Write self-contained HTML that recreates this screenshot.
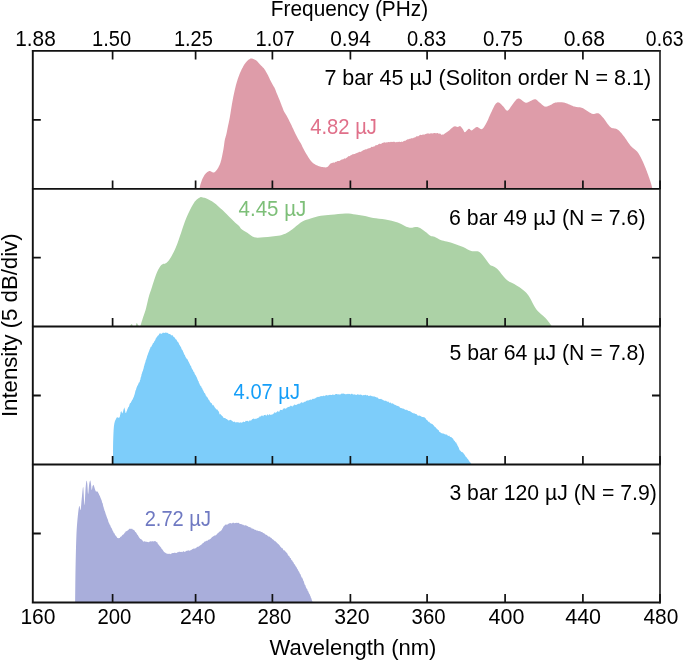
<!DOCTYPE html>
<html><head><meta charset="utf-8"><style>
html,body{margin:0;padding:0;background:#fff;width:685px;height:660px;overflow:hidden}
svg{display:block;font-family:"Liberation Sans",sans-serif;will-change:transform}
</style></head><body>
<svg width="685" height="660" viewBox="0 0 685 660">
<rect width="685" height="660" fill="#fff"/>
<path d="M199.50 188.90 L199.50 188.80 L199.61 188.28 L199.74 187.57 L199.91 186.73 L200.10 185.80 L200.33 184.84 L200.60 183.90 L200.83 183.19 L201.07 182.44 L201.34 181.67 L201.63 180.88 L201.93 180.10 L202.25 179.33 L202.57 178.59 L202.90 177.90 L203.35 177.02 L203.83 176.17 L204.33 175.36 L204.84 174.60 L205.37 173.91 L205.90 173.30 L206.57 172.66 L207.28 172.11 L208.00 171.66 L208.68 171.32 L209.30 171.10 L210.15 171.11 L210.87 171.45 L211.60 171.80 L212.36 172.17 L213.11 172.56 L213.90 172.60 L214.53 172.29 L215.18 171.78 L215.84 171.10 L216.50 170.30 L216.95 169.69 L217.42 168.99 L217.89 168.24 L218.36 167.44 L218.80 166.62 L219.20 165.80 L219.52 165.10 L219.81 164.39 L220.09 163.67 L220.36 162.93 L220.61 162.15 L220.86 161.35 L221.10 160.50 L221.31 159.71 L221.51 158.87 L221.71 157.99 L221.90 157.09 L222.08 156.19 L222.26 155.30 L222.43 154.43 L222.60 153.60 L222.78 152.71 L222.94 151.87 L223.10 151.05 L223.25 150.24 L223.40 149.40 L223.55 148.53 L223.70 147.60 L223.82 146.82 L223.93 145.99 L224.05 145.13 L224.16 144.24 L224.28 143.36 L224.40 142.47 L224.52 141.61 L224.66 140.78 L224.80 140.00 L225.00 139.07 L225.22 138.21 L225.46 137.40 L225.70 136.59 L225.94 135.78 L226.17 134.92 L226.40 134.00 L226.57 133.24 L226.73 132.46 L226.90 131.65 L227.06 130.83 L227.22 129.99 L227.38 129.14 L227.55 128.27 L227.72 127.39 L227.90 126.50 L228.07 125.71 L228.23 124.95 L228.40 124.19 L228.57 123.43 L228.74 122.64 L228.92 121.82 L229.11 120.96 L229.30 120.02 L229.49 119.01 L229.70 117.90 L229.82 117.23 L229.94 116.53 L230.07 115.78 L230.19 115.01 L230.32 114.21 L230.46 113.39 L230.59 112.54 L230.73 111.69 L230.86 110.82 L231.00 109.95 L231.14 109.07 L231.28 108.20 L231.42 107.34 L231.56 106.49 L231.69 105.66 L231.83 104.85 L231.97 104.06 L232.10 103.30 L232.26 102.42 L232.42 101.54 L232.58 100.68 L232.74 99.83 L232.90 98.99 L233.06 98.16 L233.21 97.35 L233.37 96.54 L233.53 95.75 L233.69 94.96 L233.85 94.19 L234.01 93.43 L234.17 92.67 L234.34 91.93 L234.50 91.20 L234.70 90.30 L234.91 89.43 L235.11 88.58 L235.31 87.74 L235.51 86.93 L235.71 86.12 L235.92 85.34 L236.13 84.56 L236.34 83.78 L236.55 83.02 L236.77 82.26 L237.00 81.50 L237.25 80.68 L237.51 79.86 L237.77 79.06 L238.03 78.27 L238.30 77.48 L238.57 76.71 L238.84 75.94 L239.13 75.19 L239.41 74.45 L239.70 73.72 L240.00 73.00 L240.34 72.21 L240.70 71.42 L241.07 70.63 L241.45 69.85 L241.83 69.09 L242.21 68.36 L242.58 67.65 L242.94 66.99 L243.28 66.37 L243.60 65.80 L244.16 64.84 L244.66 64.06 L245.12 63.41 L245.59 62.81 L246.10 62.20 L246.66 61.56 L247.26 60.93 L247.86 60.34 L248.45 59.83 L249.00 59.40 L249.79 58.90 L250.52 58.60 L251.30 58.50 L252.19 58.60 L253.14 58.90 L254.10 59.30 L254.83 59.66 L255.59 60.09 L256.32 60.58 L257.00 61.10 L257.58 61.66 L258.10 62.28 L258.62 62.92 L259.20 63.60 L259.75 64.18 L260.34 64.80 L260.96 65.43 L261.55 66.04 L262.10 66.60 L262.89 67.38 L263.61 68.08 L264.30 68.90 L264.82 69.68 L265.33 70.56 L265.83 71.45 L266.30 72.30 L266.73 73.04 L267.14 73.72 L267.55 74.44 L268.00 75.30 L268.33 75.98 L268.68 76.73 L269.04 77.53 L269.41 78.35 L269.80 79.18 L270.20 80.00 L270.57 80.71 L270.96 81.46 L271.37 82.22 L271.78 82.97 L272.18 83.69 L272.56 84.38 L272.90 85.00 L273.41 85.90 L273.86 86.63 L274.27 87.35 L274.70 88.20 L274.99 88.86 L275.28 89.57 L275.57 90.31 L275.86 91.08 L276.17 91.88 L276.50 92.70 L276.81 93.44 L277.14 94.23 L277.48 95.04 L277.82 95.86 L278.16 96.67 L278.49 97.46 L278.80 98.20 L279.13 99.02 L279.45 99.80 L279.76 100.56 L280.05 101.30 L280.33 102.01 L280.60 102.70 L280.97 103.66 L281.30 104.55 L281.63 105.44 L282.00 106.40 L282.27 107.10 L282.54 107.84 L282.82 108.59 L283.12 109.36 L283.44 110.13 L283.80 110.90 L284.20 111.65 L284.63 112.40 L285.09 113.14 L285.56 113.90 L286.03 114.69 L286.50 115.50 L286.90 116.23 L287.30 116.98 L287.70 117.75 L288.10 118.54 L288.50 119.33 L288.90 120.12 L289.30 120.90 L289.69 121.68 L290.08 122.47 L290.47 123.26 L290.86 124.04 L291.25 124.83 L291.63 125.62 L292.00 126.40 L292.36 127.16 L292.69 127.89 L293.02 128.62 L293.36 129.36 L293.70 130.12 L294.08 130.93 L294.50 131.80 L294.83 132.47 L295.18 133.18 L295.55 133.94 L295.94 134.72 L296.34 135.51 L296.73 136.29 L297.13 137.06 L297.50 137.79 L297.87 138.47 L298.20 139.10 L298.71 140.00 L299.17 140.77 L299.61 141.46 L300.04 142.13 L300.46 142.82 L300.90 143.60 L301.28 144.33 L301.64 145.07 L302.00 145.84 L302.37 146.63 L302.76 147.43 L303.16 148.26 L303.60 149.10 L303.97 149.78 L304.36 150.48 L304.76 151.20 L305.18 151.94 L305.61 152.67 L306.04 153.41 L306.47 154.13 L306.89 154.83 L307.30 155.50 L307.75 156.24 L308.21 156.97 L308.66 157.69 L309.11 158.40 L309.55 159.08 L310.00 159.73 L310.45 160.34 L310.90 160.90 L311.50 161.58 L312.10 162.18 L312.69 162.72 L313.29 163.22 L313.89 163.67 L314.50 164.10 L315.22 164.56 L315.93 164.95 L316.66 165.29 L317.41 165.60 L318.20 165.90 L319.05 166.20 L319.94 166.48 L320.85 166.74 L321.78 166.95 L322.70 167.10 L323.64 167.23 L324.60 167.35 L325.56 167.41 L326.47 167.34 L327.30 167.10 L328.02 166.59 L328.64 165.85 L329.23 165.01 L329.83 164.22 L330.50 163.60 L331.22 163.21 L331.97 162.95 L332.75 162.71 L333.59 162.60 L334.50 162.64 L335.20 162.05 L335.93 161.86 L336.69 161.69 L337.49 161.12 L338.30 161.12 L339.14 160.92 L340.00 160.73 L340.69 159.90 L341.40 159.77 L342.14 159.29 L342.89 159.54 L343.64 159.11 L344.40 158.25 L345.15 158.66 L345.88 158.30 L346.60 157.72 L347.37 157.32 L348.11 156.59 L348.83 156.11 L349.55 156.15 L350.28 155.40 L351.04 155.13 L351.84 154.78 L352.70 154.22 L353.37 154.28 L354.06 153.97 L354.79 153.99 L355.53 153.43 L356.29 153.22 L357.06 152.80 L357.84 152.63 L358.61 152.16 L359.39 151.71 L360.15 151.99 L360.90 151.70 L361.70 151.26 L362.46 150.86 L363.21 150.26 L363.95 149.91 L364.69 149.67 L365.46 149.20 L366.26 149.45 L367.11 148.84 L368.02 148.85 L369.00 148.11 L369.66 148.31 L370.36 147.94 L371.10 146.97 L371.88 146.83 L372.67 147.07 L373.49 146.39 L374.31 146.46 L375.14 145.66 L375.98 145.07 L376.80 145.19 L377.62 145.00 L378.41 144.30 L379.19 143.87 L379.93 143.81 L380.64 144.08 L381.30 143.71 L382.27 142.92 L383.14 142.79 L383.94 142.49 L384.68 142.30 L385.41 142.77 L386.13 142.17 L386.88 142.39 L387.67 142.22 L388.54 141.94 L389.50 142.29 L390.21 141.75 L390.97 142.13 L391.78 141.68 L392.62 141.91 L393.49 141.73 L394.38 141.77 L395.28 142.33 L396.17 142.19 L397.06 141.78 L397.93 142.24 L398.77 141.68 L399.58 141.79 L400.34 142.12 L401.05 141.89 L401.70 141.38 L402.76 141.90 L403.67 141.04 L404.47 140.80 L405.18 140.91 L405.85 140.25 L406.50 139.91 L407.17 139.43 L407.90 139.17 L408.76 139.29 L409.59 138.76 L410.41 138.80 L411.24 138.37 L412.11 138.18 L413.02 138.29 L414.00 137.59 L414.73 137.40 L415.47 137.34 L416.24 136.47 L417.03 136.12 L417.84 136.39 L418.68 135.98 L419.53 135.21 L420.40 134.86 L421.29 135.03 L422.20 134.95 L422.99 134.18 L423.82 134.63 L424.68 134.43 L425.56 134.07 L426.46 133.80 L427.36 133.43 L428.26 133.28 L429.15 133.93 L430.01 133.27 L430.85 133.57 L431.65 133.16 L432.40 133.56 L433.35 133.33 L434.28 133.05 L435.18 132.95 L436.04 133.39 L436.85 132.89 L437.62 133.06 L438.34 133.39 L439.00 133.69 L439.60 133.59 L440.57 133.74 L441.16 134.87 L441.72 134.77 L442.60 134.61 L443.15 134.59 L443.78 134.39 L444.47 133.64 L445.19 133.23 L445.94 132.82 L446.69 132.35 L447.43 131.77 L448.14 131.21 L448.80 130.70 L449.51 130.13 L450.21 129.51 L450.90 128.87 L451.57 128.24 L452.22 127.65 L452.84 127.13 L453.44 126.70 L454.00 126.40 L455.02 126.24 L455.91 126.49 L456.73 126.84 L457.50 127.00 L458.43 126.67 L459.26 126.17 L460.10 126.10 L460.64 126.45 L461.20 127.01 L461.76 127.71 L462.30 128.43 L462.80 129.10 L463.32 130.02 L463.77 131.06 L464.26 131.89 L464.90 132.20 L465.47 131.94 L466.14 131.33 L466.87 130.53 L467.60 129.72 L468.29 129.05 L468.90 128.70 L469.77 129.10 L470.49 130.10 L471.50 130.50 L472.12 130.23 L472.82 129.72 L473.59 129.08 L474.39 128.39 L475.21 127.75 L476.02 127.25 L476.80 127.00 L477.56 127.08 L478.32 127.43 L479.08 127.94 L479.83 128.49 L480.58 128.94 L481.30 129.19 L482.00 129.10 L482.52 128.79 L483.03 128.35 L483.53 127.77 L484.01 127.10 L484.49 126.34 L484.96 125.53 L485.44 124.67 L485.92 123.78 L486.40 122.90 L486.74 122.27 L487.08 121.60 L487.42 120.90 L487.75 120.17 L488.09 119.42 L488.43 118.65 L488.77 117.87 L489.11 117.09 L489.45 116.31 L489.78 115.53 L490.12 114.77 L490.46 114.02 L490.80 113.30 L491.17 112.52 L491.54 111.71 L491.92 110.89 L492.30 110.06 L492.68 109.24 L493.06 108.43 L493.43 107.65 L493.80 106.91 L494.16 106.21 L494.52 105.57 L494.86 105.00 L495.20 104.50 L495.94 103.56 L496.62 102.89 L497.28 102.49 L497.96 102.33 L498.70 102.40 L499.28 102.64 L499.89 103.06 L500.53 103.63 L501.17 104.28 L501.82 104.97 L502.47 105.66 L503.10 106.30 L503.72 106.99 L504.33 107.80 L504.94 108.66 L505.56 109.47 L506.17 110.14 L506.78 110.58 L507.40 110.70 L507.94 110.51 L508.47 110.09 L509.00 109.48 L509.54 108.73 L510.08 107.90 L510.63 107.04 L511.21 106.19 L511.80 105.40 L512.30 104.77 L512.83 104.07 L513.38 103.32 L513.94 102.56 L514.51 101.79 L515.07 101.06 L515.61 100.38 L516.14 99.78 L516.64 99.28 L517.10 98.90 L518.06 98.44 L518.86 98.48 L519.65 98.82 L520.60 99.30 L521.25 99.69 L521.96 100.24 L522.70 100.88 L523.48 101.53 L524.26 102.12 L525.04 102.57 L525.80 102.80 L526.56 102.79 L527.33 102.59 L528.11 102.26 L528.89 101.84 L529.65 101.41 L530.39 101.01 L531.10 100.70 L532.04 100.30 L532.92 99.85 L533.78 99.47 L534.63 99.26 L535.50 99.30 L536.12 99.54 L536.73 99.93 L537.34 100.44 L537.96 101.02 L538.58 101.64 L539.23 102.24 L539.90 102.80 L540.51 103.30 L541.14 103.85 L541.79 104.44 L542.44 105.01 L543.11 105.55 L543.77 106.02 L544.44 106.38 L545.10 106.60 L545.98 106.67 L546.87 106.53 L547.77 106.24 L548.66 105.87 L549.54 105.47 L550.40 105.10 L551.20 104.71 L551.92 104.25 L552.64 103.76 L553.40 103.29 L554.27 102.88 L555.30 102.60 L556.01 102.48 L556.77 102.38 L557.57 102.29 L558.42 102.23 L559.30 102.19 L560.21 102.19 L561.14 102.23 L562.08 102.30 L563.04 102.43 L564.00 102.60 L564.70 102.77 L565.43 102.98 L566.18 103.24 L566.94 103.53 L567.72 103.84 L568.51 104.17 L569.30 104.51 L570.09 104.86 L570.87 105.20 L571.64 105.53 L572.39 105.84 L573.12 106.13 L573.83 106.38 L574.50 106.60 L575.39 106.83 L576.22 106.98 L577.01 107.08 L577.77 107.14 L578.51 107.19 L579.24 107.26 L579.99 107.35 L580.75 107.49 L581.55 107.70 L582.40 108.00 L583.09 108.31 L583.82 108.70 L584.57 109.15 L585.34 109.64 L586.12 110.16 L586.91 110.69 L587.70 111.23 L588.48 111.76 L589.24 112.26 L589.98 112.71 L590.69 113.12 L591.37 113.45 L592.00 113.70 L593.07 113.92 L594.05 113.88 L594.95 113.69 L595.79 113.43 L596.60 113.22 L597.40 113.14 L598.20 113.30 L598.89 113.61 L599.53 114.01 L600.14 114.50 L600.75 115.06 L601.36 115.69 L602.00 116.40 L602.67 117.17 L603.40 118.00 L603.84 118.53 L604.31 119.13 L604.78 119.78 L605.27 120.48 L605.77 121.20 L606.27 121.95 L606.79 122.70 L607.31 123.44 L607.83 124.17 L608.35 124.87 L608.87 125.52 L609.38 126.12 L609.90 126.65 L610.40 127.10 L611.18 127.63 L611.97 127.99 L612.76 128.21 L613.56 128.36 L614.34 128.46 L615.13 128.57 L615.90 128.74 L616.66 129.00 L617.40 129.40 L617.99 129.82 L618.57 130.28 L619.13 130.78 L619.68 131.32 L620.23 131.88 L620.77 132.49 L621.32 133.12 L621.87 133.78 L622.43 134.46 L623.01 135.17 L623.60 135.90 L624.05 136.47 L624.50 137.07 L624.96 137.72 L625.43 138.39 L625.90 139.08 L626.38 139.79 L626.86 140.50 L627.34 141.22 L627.82 141.93 L628.30 142.63 L628.77 143.31 L629.24 143.96 L629.70 144.58 L630.15 145.16 L630.60 145.70 L631.26 146.42 L631.93 147.07 L632.59 147.65 L633.25 148.18 L633.89 148.68 L634.52 149.16 L635.13 149.64 L635.72 150.13 L636.28 150.65 L636.80 151.20 L637.33 151.84 L637.82 152.47 L638.27 153.09 L638.69 153.73 L639.09 154.38 L639.48 155.05 L639.87 155.76 L640.27 156.50 L640.70 157.30 L641.06 157.99 L641.42 158.70 L641.79 159.44 L642.15 160.21 L642.52 160.99 L642.88 161.80 L643.25 162.62 L643.61 163.45 L643.98 164.29 L644.34 165.14 L644.70 166.00 L645.01 166.74 L645.32 167.52 L645.64 168.31 L645.96 169.12 L646.28 169.95 L646.59 170.77 L646.91 171.60 L647.21 172.42 L647.51 173.23 L647.80 174.01 L648.08 174.78 L648.35 175.51 L648.60 176.20 L648.94 177.15 L649.25 178.06 L649.55 178.92 L649.82 179.75 L650.08 180.55 L650.33 181.32 L650.56 182.07 L650.79 182.79 L651.00 183.50 L651.31 184.56 L651.59 185.61 L651.85 186.61 L652.07 187.50 L652.26 188.25 L652.40 188.80 L652.40 188.90 Z" fill="#de9ca9"/>
<path d="M130.00 326.50 L130.00 326.40 C130.17 326.08 130.63 324.82 131.00 324.50 C131.37 324.18 131.87 324.18 132.20 324.50 C132.53 324.82 132.45 326.08 133.00 326.40 C133.55 326.72 134.88 326.97 135.50 326.40 C136.12 325.83 136.28 323.23 136.70 323.00 C137.12 322.77 137.53 324.43 138.00 325.00 C138.47 325.57 139.08 326.32 139.50 326.40 C139.92 326.48 140.02 326.67 140.50 325.50 C140.98 324.33 141.57 321.93 142.40 319.40 C143.23 316.87 144.62 313.33 145.50 310.30 C146.38 307.27 147.08 303.72 147.70 301.20 C148.32 298.68 148.63 297.10 149.20 295.20 C149.77 293.30 150.47 291.70 151.10 289.80 C151.73 287.90 152.48 285.43 153.00 283.80 C153.52 282.17 153.57 281.85 154.20 280.00 C154.83 278.15 155.92 274.78 156.80 272.70 C157.68 270.62 158.62 268.85 159.50 267.50 C160.38 266.15 160.97 265.33 162.10 264.60 C163.23 263.87 164.88 264.23 166.30 263.10 C167.72 261.97 169.00 260.45 170.60 257.80 C172.20 255.15 174.13 251.43 175.90 247.20 C177.67 242.97 179.43 237.33 181.20 232.40 C182.97 227.47 184.57 222.20 186.50 217.60 C188.43 213.00 191.13 207.77 192.80 204.80 C194.47 201.83 195.25 201.07 196.50 199.80 C197.75 198.53 199.22 197.57 200.30 197.20 C201.38 196.83 201.97 197.37 203.00 197.60 C204.03 197.83 204.67 197.75 206.50 198.60 C208.33 199.45 211.33 200.78 214.00 202.70 C216.67 204.62 219.67 207.45 222.50 210.10 C225.33 212.75 228.92 216.52 231.00 218.60 C233.08 220.68 233.58 221.28 235.00 222.60 C236.42 223.92 238.48 225.48 239.50 226.50 C240.52 227.52 239.80 227.65 241.10 228.70 C242.40 229.75 245.08 231.37 247.30 232.80 C249.52 234.23 251.68 236.55 254.40 237.30 C257.12 238.05 260.70 237.43 263.60 237.30 C266.50 237.17 269.07 236.80 271.80 236.50 C274.53 236.20 277.45 236.12 280.00 235.50 C282.55 234.88 284.72 234.10 287.10 232.80 C289.48 231.50 291.75 229.57 294.30 227.70 C296.85 225.83 299.68 223.13 302.40 221.60 C305.12 220.07 307.53 219.47 310.60 218.50 C313.67 217.53 317.38 216.42 320.80 215.80 C324.22 215.18 327.00 215.20 331.10 214.80 C335.20 214.40 341.32 213.47 345.40 213.40 C349.48 213.33 352.33 213.98 355.60 214.40 C358.87 214.82 362.07 215.30 365.00 215.90 C367.93 216.50 369.80 217.42 373.20 218.00 C376.60 218.58 381.32 218.65 385.40 219.40 C389.48 220.15 393.78 221.13 397.70 222.50 C401.62 223.87 405.50 226.82 408.90 227.60 C412.30 228.38 415.37 226.52 418.10 227.20 C420.83 227.88 423.25 230.27 425.30 231.70 C427.35 233.13 428.87 234.95 430.40 235.80 C431.93 236.65 432.80 236.12 434.50 236.80 C436.20 237.48 438.57 239.12 440.60 239.90 C442.63 240.68 444.32 240.83 446.70 241.50 C449.08 242.17 452.17 242.98 454.90 243.90 C457.63 244.82 460.37 245.80 463.10 247.00 C465.83 248.20 468.75 250.35 471.30 251.10 C473.85 251.85 476.37 250.65 478.40 251.50 C480.43 252.35 481.62 254.05 483.50 256.20 C485.38 258.35 488.02 262.70 489.70 264.40 C491.38 266.10 492.23 265.57 493.60 266.40 C494.97 267.23 496.48 268.00 497.90 269.40 C499.32 270.80 500.78 273.18 502.10 274.80 C503.42 276.42 504.58 277.93 505.80 279.10 C507.02 280.27 508.00 281.00 509.40 281.80 C510.80 282.60 512.58 283.03 514.20 283.90 C515.82 284.77 517.27 285.68 519.10 287.00 C520.93 288.32 523.38 289.98 525.20 291.80 C527.02 293.62 528.40 295.37 530.00 297.90 C531.60 300.43 533.38 304.68 534.80 307.00 C536.22 309.32 537.08 310.28 538.50 311.80 C539.92 313.32 541.88 314.78 543.30 316.10 C544.72 317.42 545.78 318.30 547.00 319.70 C548.22 321.10 549.80 323.38 550.60 324.50 C551.40 325.62 551.60 326.08 551.80 326.40 L551.80 326.50 Z" fill="#acd2a6"/>
<path d="M113.00 464.50 L113.00 464.40 L113.00 463.96 L113.00 463.46 L113.00 462.89 L113.00 462.27 L113.01 461.59 L113.01 460.87 L113.01 460.10 L113.01 459.29 L113.01 458.45 L113.01 457.58 L113.01 456.69 L113.01 455.77 L113.01 454.85 L113.02 453.91 L113.02 452.97 L113.02 452.02 L113.03 451.08 L113.03 450.15 L113.04 449.24 L113.05 448.34 L113.05 447.47 L113.06 446.62 L113.07 445.81 L113.09 445.03 L113.10 444.30 L113.12 443.37 L113.14 442.44 L113.16 441.51 L113.19 440.59 L113.21 439.68 L113.24 438.79 L113.27 437.90 L113.30 437.03 L113.33 436.17 L113.37 435.33 L113.40 434.51 L113.44 433.72 L113.47 432.94 L113.51 432.20 L113.55 431.48 L113.58 430.78 L113.62 430.12 L113.66 429.49 L113.70 428.90 L113.80 427.64 L113.89 426.57 L114.00 425.67 L114.11 424.89 L114.22 424.20 L114.34 423.58 L114.47 422.99 L114.60 422.40 L114.90 421.34 L115.22 420.51 L115.57 419.83 L115.90 419.20 L116.55 417.72 L117.20 417.35 L118.50 417.86 L119.15 417.87 L119.80 416.84 L119.99 415.56 L120.17 414.59 L120.36 414.46 L120.54 412.78 L120.73 411.79 L120.91 411.88 L121.10 410.87 L121.51 411.79 L121.92 412.84 L122.40 413.55 L122.65 412.54 L122.92 412.20 L123.20 411.37 L123.50 409.84 L123.78 409.05 L124.05 408.21 L124.30 407.22 L124.54 408.31 L124.76 409.03 L124.95 409.92 L125.14 410.85 L125.36 412.75 L125.60 412.77 L125.92 412.88 L126.25 412.42 L126.62 411.31 L127.03 410.45 L127.50 408.78 L127.84 408.54 L128.22 407.37 L128.63 407.08 L129.06 406.15 L129.49 404.43 L129.91 403.62 L130.32 402.91 L130.70 403.01 L131.16 401.64 L131.59 401.21 L132.00 400.27 L132.41 399.87 L132.84 398.94 L133.30 397.84 L133.53 397.48 L133.76 396.79 L134.00 396.38 L134.24 395.33 L134.49 394.76 L134.74 393.80 L134.99 393.07 L135.24 391.83 L135.50 390.40 L135.75 390.33 L136.00 389.64 L136.25 388.83 L136.50 387.78 L136.91 386.95 L137.33 385.52 L137.76 385.40 L138.18 384.36 L138.60 383.32 L138.99 382.36 L139.36 382.48 L139.70 381.84 L139.99 380.03 L140.25 380.01 L140.47 378.78 L140.67 377.68 L140.88 377.01 L141.09 376.67 L141.33 375.87 L141.60 374.00 L141.82 373.88 L142.06 372.48 L142.30 372.42 L142.56 371.16 L142.82 370.92 L143.09 370.17 L143.36 368.79 L143.63 368.47 L143.89 366.86 L144.15 365.76 L144.40 365.51 L144.64 364.07 L144.88 363.42 L145.12 362.83 L145.36 362.22 L145.60 360.90 L145.83 359.96 L146.06 360.06 L146.30 358.66 L146.53 358.59 L146.76 357.77 L147.00 356.47 L147.29 355.68 L147.59 354.88 L147.90 354.16 L148.20 353.28 L148.50 352.44 L148.79 351.74 L149.08 351.37 L149.35 350.22 L149.60 349.52 L150.09 348.73 L150.50 347.37 L150.91 346.70 L151.40 346.63 L151.87 345.38 L152.38 344.67 L152.92 343.31 L153.47 342.95 L154.00 342.29 L154.43 340.90 L154.86 340.73 L155.29 339.90 L155.73 338.42 L156.16 338.25 L156.60 337.36 L157.14 336.84 L157.68 335.78 L158.22 335.54 L158.76 335.03 L159.30 333.77 L160.11 333.28 L160.90 333.63 L161.90 333.71 L162.69 332.78 L163.62 332.87 L164.58 332.92 L165.51 332.57 L166.30 332.65 L167.27 332.83 L168.03 333.29 L168.90 334.01 L169.73 334.04 L170.65 334.51 L171.57 335.39 L172.40 335.08 L173.11 336.26 L173.75 337.10 L174.36 337.34 L175.00 337.99 L175.54 339.27 L176.08 339.32 L176.62 339.96 L177.16 340.96 L177.70 342.02 L178.14 342.02 L178.57 342.94 L179.01 343.65 L179.44 344.93 L179.87 345.25 L180.30 346.49 L180.67 346.44 L181.04 347.36 L181.41 348.47 L181.79 349.51 L182.16 349.81 L182.53 350.34 L182.90 350.98 L183.27 352.19 L183.64 352.58 L184.01 354.02 L184.38 354.80 L184.75 354.83 L185.12 355.66 L185.50 356.94 L185.95 357.54 L186.43 358.49 L186.90 358.72 L187.36 359.21 L187.80 360.09 L188.20 361.32 L188.57 361.46 L188.86 362.14 L189.13 362.83 L189.48 363.59 L190.00 364.60 L190.31 365.74 L190.66 365.55 L191.05 366.08 L191.46 367.86 L191.89 368.57 L192.34 369.49 L192.79 369.70 L193.24 371.09 L193.68 371.89 L194.10 371.91 L194.50 373.27 L194.88 374.14 L195.25 374.72 L195.62 375.33 L195.98 375.85 L196.34 376.69 L196.69 377.34 L197.04 377.94 L197.40 379.29 L197.76 379.73 L198.13 381.08 L198.50 381.00 L198.88 382.71 L199.26 383.24 L199.64 384.25 L200.02 384.98 L200.41 385.74 L200.80 386.14 L201.19 386.28 L201.59 387.83 L201.99 387.95 L202.39 388.84 L202.80 389.98 L203.21 390.57 L203.63 391.20 L204.05 392.53 L204.48 392.92 L204.91 393.37 L205.34 394.02 L205.77 395.42 L206.21 395.72 L206.64 396.76 L207.07 396.97 L207.50 397.47 L208.02 398.62 L208.54 399.69 L209.07 399.71 L209.59 401.11 L210.11 401.95 L210.63 402.51 L211.16 403.20 L211.68 402.98 L212.20 404.43 L212.72 405.52 L213.25 404.72 L213.77 405.77 L214.29 406.41 L214.82 407.52 L215.34 407.97 L215.86 408.69 L216.38 409.87 L216.90 409.10 L217.41 409.84 L217.93 410.62 L218.44 411.28 L218.95 411.84 L219.45 414.11 L219.96 414.53 L220.47 413.75 L220.99 415.07 L221.50 415.27 L222.16 415.90 L222.80 416.56 L223.45 417.64 L224.10 418.04 L224.77 418.11 L225.47 418.24 L226.20 418.89 L226.97 418.88 L227.77 419.96 L228.60 420.51 L229.45 420.14 L230.30 419.81 L231.16 420.20 L232.00 420.77 L232.85 421.42 L233.71 421.98 L234.58 421.50 L235.45 422.48 L236.30 422.35 L237.12 422.16 L237.90 422.17 L238.90 422.48 L239.81 422.86 L240.70 422.31 L241.61 422.70 L242.60 422.13 L243.36 421.60 L244.14 421.95 L244.95 422.04 L245.77 420.70 L246.62 421.09 L247.50 420.83 L248.40 421.38 L249.13 421.27 L249.87 420.02 L250.64 420.71 L251.43 420.26 L252.22 419.04 L253.02 419.13 L253.82 418.25 L254.62 419.22 L255.40 418.69 L256.17 418.84 L256.94 418.40 L257.70 417.91 L258.46 417.76 L259.22 417.19 L259.99 416.10 L260.78 416.72 L261.58 415.43 L262.40 415.46 L263.15 416.42 L263.90 414.96 L264.65 414.92 L265.41 414.82 L266.18 416.11 L266.97 414.72 L267.78 414.30 L268.62 415.60 L269.49 414.08 L270.40 415.12 L271.07 414.59 L271.75 414.64 L272.45 414.58 L273.17 413.62 L273.90 413.72 L274.64 412.03 L275.39 413.03 L276.15 412.23 L276.92 412.26 L277.70 410.83 L278.49 411.64 L279.29 411.64 L280.09 409.74 L280.90 409.88 L281.62 410.03 L282.34 410.22 L283.08 408.87 L283.83 408.46 L284.58 408.29 L285.35 408.64 L286.11 408.59 L286.89 407.64 L287.66 407.29 L288.44 407.04 L289.22 406.66 L290.00 406.49 L290.78 405.59 L291.56 406.06 L292.33 406.63 L293.10 405.34 L293.87 405.68 L294.65 404.35 L295.43 405.04 L296.22 404.90 L297.01 404.49 L297.80 403.96 L298.59 403.65 L299.38 403.68 L300.16 403.61 L300.94 402.55 L301.71 402.25 L302.47 402.72 L303.22 402.67 L303.96 401.99 L304.69 401.67 L305.40 401.74 L306.25 400.87 L307.08 400.67 L307.90 400.31 L308.69 400.45 L309.48 399.88 L310.25 399.51 L311.01 399.74 L311.77 399.76 L312.53 398.78 L313.29 398.97 L314.05 398.39 L314.82 398.63 L315.60 398.09 L316.38 397.51 L317.17 397.21 L317.95 396.76 L318.74 397.03 L319.52 396.70 L320.30 396.24 L321.09 396.23 L321.87 395.98 L322.65 396.28 L323.44 395.40 L324.23 396.15 L325.01 395.43 L325.80 395.41 L326.66 395.12 L327.51 395.40 L328.37 395.27 L329.23 394.88 L330.09 394.71 L330.95 394.90 L331.81 394.98 L332.67 394.42 L333.53 394.72 L334.39 394.92 L335.24 394.32 L336.10 394.00 L336.95 393.95 L337.81 394.42 L338.66 394.32 L339.51 394.58 L340.36 394.42 L341.21 393.70 L342.06 393.61 L342.90 393.66 L343.75 393.56 L344.60 394.12 L345.45 394.28 L346.30 394.34 L347.15 393.66 L348.00 394.37 L348.85 393.82 L349.70 394.00 L350.55 394.41 L351.40 393.78 L352.25 393.87 L353.10 394.77 L353.95 394.26 L354.80 394.41 L355.65 394.72 L356.50 394.89 L357.36 394.21 L358.22 394.62 L359.10 394.78 L359.98 394.87 L360.86 394.61 L361.73 395.06 L362.60 395.51 L363.46 394.94 L364.30 395.15 L365.12 394.74 L365.92 394.98 L366.70 395.48 L367.61 394.97 L368.51 395.93 L369.39 396.06 L370.25 395.29 L371.09 396.34 L371.90 395.85 L372.68 396.43 L373.42 396.56 L374.13 396.21 L374.80 396.79 L375.77 397.07 L376.58 397.57 L377.30 397.32 L378.00 398.23 L378.74 398.83 L379.60 398.89 L380.32 399.02 L381.07 398.83 L381.85 399.54 L382.65 399.67 L383.48 400.37 L384.33 400.63 L385.20 400.83 L386.10 400.75 L386.84 401.54 L387.60 401.82 L388.39 401.62 L389.19 402.71 L390.01 402.77 L390.83 402.51 L391.65 403.73 L392.48 403.20 L393.29 403.76 L394.10 404.54 L394.83 404.74 L395.55 405.05 L396.28 405.52 L397.01 405.68 L397.74 405.90 L398.46 406.13 L399.19 406.40 L399.92 407.48 L400.65 407.89 L401.37 408.01 L402.10 408.56 L402.90 408.49 L403.70 408.72 L404.50 409.17 L405.30 410.01 L406.09 409.40 L406.89 410.21 L407.69 410.23 L408.49 411.12 L409.30 410.99 L410.10 411.32 L410.84 411.74 L411.60 412.26 L412.37 412.90 L413.14 412.83 L413.92 413.78 L414.68 413.37 L415.43 413.94 L416.17 414.12 L416.88 414.48 L417.56 415.53 L418.20 415.75 L419.15 415.49 L420.03 415.72 L420.86 416.14 L421.64 416.64 L422.39 416.89 L423.11 417.04 L423.80 417.20 L424.45 417.16 L425.04 417.98 L425.58 418.35 L426.11 419.35 L426.65 420.02 L427.20 420.22 L427.80 420.83 L428.44 421.89 L429.11 421.51 L429.80 422.77 L430.50 423.28 L431.21 423.78 L431.91 423.63 L432.60 424.36 L433.20 424.93 L433.82 425.57 L434.43 426.58 L435.04 426.91 L435.65 427.13 L436.25 428.39 L436.83 428.60 L437.40 429.31 L438.01 430.09 L438.58 429.93 L439.13 431.40 L439.67 431.88 L440.24 432.25 L440.84 432.79 L441.50 433.16 L442.23 433.20 L443.01 433.82 L443.84 433.46 L444.68 434.13 L445.51 434.46 L446.33 434.45 L447.10 434.87 L447.83 435.66 L448.53 435.96 L449.21 435.53 L449.88 436.70 L450.55 437.00 L451.22 436.91 L451.90 437.85 L452.44 438.22 L453.00 438.60 L453.56 439.70 L454.12 440.75 L454.68 440.73 L455.22 441.99 L455.74 442.47 L456.24 442.53 L456.70 443.99 L457.18 444.49 L457.61 445.69 L458.02 446.32 L458.40 447.21 L458.77 447.62 L459.14 448.94 L459.51 449.82 L459.90 450.40 L460.54 450.78 L461.18 451.79 L461.81 452.06 L462.45 452.21 L463.10 452.80 L463.63 453.43 L464.14 454.16 L464.65 454.73 L465.19 455.76 L465.76 456.71 L466.40 457.34 L466.89 457.85 L467.44 458.83 L468.04 459.25 L468.65 460.25 L469.26 461.40 L469.84 461.79 L470.37 462.61 L470.83 463.23 L471.20 463.70 L472.00 464.40 L472.00 464.50 Z" fill="#7dcdfa"/>
<path d="M75.10 602.50 L75.10 602.40 L75.11 601.97 L75.11 601.51 L75.12 601.00 L75.12 600.46 L75.13 599.88 L75.14 599.26 L75.14 598.62 L75.15 597.94 L75.16 597.23 L75.16 596.50 L75.17 595.74 L75.18 594.95 L75.19 594.15 L75.20 593.32 L75.21 592.47 L75.22 591.61 L75.23 590.73 L75.24 589.84 L75.25 588.93 L75.26 588.01 L75.27 587.09 L75.28 586.15 L75.29 585.21 L75.30 584.27 L75.31 583.32 L75.32 582.38 L75.33 581.43 L75.35 580.49 L75.36 579.55 L75.37 578.62 L75.38 577.70 L75.39 576.78 L75.41 575.88 L75.42 574.99 L75.43 574.11 L75.45 573.25 L75.46 572.41 L75.47 571.58 L75.49 570.78 L75.50 570.00 L75.52 569.14 L75.53 568.29 L75.55 567.42 L75.56 566.56 L75.58 565.69 L75.60 564.82 L75.62 563.95 L75.63 563.08 L75.65 562.21 L75.67 561.34 L75.69 560.47 L75.71 559.60 L75.73 558.74 L75.75 557.87 L75.77 557.02 L75.79 556.16 L75.80 555.32 L75.83 554.48 L75.85 553.64 L75.87 552.81 L75.89 551.99 L75.91 551.18 L75.93 550.37 L75.95 549.58 L75.97 548.79 L75.99 548.02 L76.01 547.26 L76.03 546.51 L76.05 545.77 L76.07 545.04 L76.10 544.33 L76.12 543.63 L76.14 542.95 L76.16 542.28 L76.18 541.63 L76.20 541.00 L76.24 539.91 L76.27 538.87 L76.31 537.89 L76.34 536.95 L76.38 536.06 L76.41 535.21 L76.44 534.40 L76.48 533.62 L76.51 532.86 L76.55 532.12 L76.59 531.41 L76.62 530.70 L76.66 530.01 L76.71 529.32 L76.75 528.62 L76.79 527.93 L76.84 527.22 L76.89 526.50 L76.94 525.76 L77.00 525.00 L77.07 524.13 L77.14 523.23 L77.22 522.31 L77.30 521.39 L77.38 520.45 L77.47 519.52 L77.56 518.59 L77.65 517.66 L77.74 516.75 L77.83 515.86 L77.92 514.99 L78.01 514.15 L78.10 513.34 L78.19 512.57 L78.27 511.85 L78.35 511.18 L78.43 510.56 L78.50 510.00 L78.73 508.37 L78.93 507.22 L79.12 506.50 L79.30 506.11 L79.50 506.00 L79.71 506.54 L79.93 507.79 L80.15 509.17 L80.37 510.10 L80.60 510.00 L80.68 509.66 L80.75 509.19 L80.83 508.61 L80.91 507.92 L80.99 507.14 L81.06 506.30 L81.14 505.40 L81.22 504.46 L81.30 503.49 L81.38 502.51 L81.46 501.54 L81.55 500.59 L81.63 499.67 L81.71 498.80 L81.80 498.00 L81.90 497.05 L82.01 495.97 L82.11 494.82 L82.22 493.62 L82.33 492.42 L82.44 491.24 L82.56 490.14 L82.67 489.14 L82.78 488.29 L82.89 487.63 L82.99 487.18 L83.10 486.99 L83.20 487.10 L83.26 487.35 L83.32 487.78 L83.37 488.36 L83.43 489.07 L83.49 489.91 L83.54 490.85 L83.60 491.87 L83.65 492.96 L83.71 494.09 L83.76 495.26 L83.81 496.43 L83.87 497.60 L83.92 498.75 L83.97 499.85 L84.03 500.89 L84.08 501.86 L84.13 502.73 L84.18 503.48 L84.24 504.10 L84.29 504.58 L84.35 504.88 L84.40 505.00 L84.46 504.93 L84.52 504.70 L84.57 504.32 L84.63 503.80 L84.69 503.15 L84.75 502.40 L84.81 501.56 L84.87 500.63 L84.93 499.64 L84.99 498.60 L85.05 497.53 L85.11 496.43 L85.16 495.33 L85.22 494.23 L85.28 493.16 L85.34 492.12 L85.39 491.14 L85.44 490.22 L85.50 489.38 L85.55 488.64 L85.60 488.00 L85.71 486.71 L85.82 485.54 L85.93 484.49 L86.03 483.56 L86.12 482.75 L86.22 482.07 L86.31 481.51 L86.41 481.09 L86.50 480.80 L86.71 480.71 L86.91 481.33 L87.10 482.48 L87.30 484.00 L87.37 484.66 L87.43 485.50 L87.49 486.49 L87.56 487.57 L87.62 488.70 L87.68 489.82 L87.75 490.91 L87.81 491.90 L87.88 492.75 L87.95 493.41 L88.02 493.85 L88.10 494.00 L88.18 493.85 L88.27 493.42 L88.36 492.75 L88.45 491.91 L88.54 490.92 L88.64 489.84 L88.73 488.72 L88.83 487.59 L88.92 486.51 L89.02 485.52 L89.11 484.67 L89.20 484.00 L89.46 482.50 L89.72 481.41 L89.97 480.73 L90.20 480.50 L90.42 480.82 L90.62 481.66 L90.81 482.79 L91.00 484.00 L91.10 484.81 L91.20 485.82 L91.30 486.92 L91.39 488.00 L91.49 488.94 L91.59 489.65 L91.70 490.00 L91.87 489.80 L92.05 488.99 L92.23 487.89 L92.42 486.79 L92.60 486.00 L93.50 484.70 L93.76 485.20 L94.02 486.06 L94.31 487.06 L94.60 488.00 L94.90 488.92 L95.22 489.89 L95.55 490.77 L95.90 491.40 L96.62 491.45 L97.50 491.52 L97.86 491.89 L98.27 493.11 L98.69 493.38 L99.13 494.78 L99.57 495.59 L100.00 496.26 L100.32 497.45 L100.63 497.75 L100.96 498.95 L101.28 499.41 L101.59 500.28 L101.90 501.47 L102.21 502.75 L102.50 502.92 L102.75 503.83 L102.99 505.06 L103.23 506.24 L103.46 506.74 L103.69 507.42 L103.91 508.86 L104.14 508.77 L104.37 510.39 L104.60 510.59 L104.90 511.37 L105.20 512.22 L105.50 513.25 L105.80 514.58 L106.10 514.75 L106.40 515.96 L106.70 516.84 L106.99 517.41 L107.28 518.44 L107.56 518.80 L107.84 519.64 L108.13 520.61 L108.43 521.89 L108.75 522.43 L109.14 523.18 L109.53 524.28 L109.94 524.95 L110.37 525.60 L110.80 526.92 L111.25 527.70 L111.60 527.94 L111.96 529.01 L112.33 529.71 L112.70 530.83 L113.08 531.44 L113.46 531.73 L113.83 533.13 L114.20 532.92 L114.70 534.05 L115.20 535.22 L115.70 535.39 L116.19 536.43 L116.66 536.58 L117.10 537.67 L118.18 538.36 L119.20 537.97 L119.79 537.95 L120.40 536.87 L121.04 536.64 L121.70 535.89 L122.24 535.36 L122.79 534.67 L123.36 534.47 L123.96 533.96 L124.60 532.87 L125.18 532.51 L125.80 531.30 L126.45 531.32 L127.09 530.68 L127.72 530.51 L128.30 529.92 L129.37 528.84 L130.36 528.67 L131.25 528.92 L132.00 528.51 L132.65 529.42 L133.30 529.67 L133.91 530.05 L134.53 530.49 L135.40 532.17 L135.79 532.04 L136.22 532.77 L136.70 533.61 L137.20 534.84 L137.72 534.82 L138.25 535.95 L138.78 536.79 L139.30 537.80 L139.80 538.32 L140.43 539.03 L141.06 539.05 L141.69 539.75 L142.32 540.20 L142.95 541.17 L143.58 541.63 L144.20 541.15 L145.06 541.51 L145.92 541.75 L146.78 541.84 L147.64 542.11 L148.50 542.19 L149.40 541.76 L150.33 541.31 L151.26 541.49 L152.13 541.22 L152.90 541.27 L153.90 541.45 L154.70 541.08 L155.60 541.22 L156.14 541.71 L156.71 542.31 L157.30 542.32 L157.90 543.88 L158.51 544.52 L159.10 545.37 L159.61 546.00 L160.14 546.38 L160.67 547.21 L161.19 547.75 L161.69 549.08 L162.17 549.24 L162.60 549.87 L163.23 550.86 L163.75 551.46 L164.25 552.16 L164.80 552.35 L165.60 552.93 L166.45 553.58 L167.50 553.80 L168.27 554.06 L169.12 553.62 L170.04 554.28 L171.01 553.81 L172.00 553.15 L172.70 553.12 L173.40 553.07 L174.11 552.93 L174.86 552.52 L175.66 553.08 L176.53 553.06 L177.50 552.37 L178.18 552.28 L178.90 551.80 L179.66 551.73 L180.46 551.89 L181.28 551.72 L182.12 552.19 L182.97 551.43 L183.82 551.18 L184.66 551.97 L185.49 551.40 L186.30 550.85 L187.11 551.04 L187.94 550.30 L188.78 550.56 L189.63 550.75 L190.47 550.37 L191.30 549.92 L192.11 549.19 L192.90 549.01 L193.64 548.52 L194.35 548.85 L195.00 548.33 L195.92 548.15 L196.74 547.27 L197.48 546.72 L198.15 546.87 L198.78 546.61 L199.39 546.06 L200.00 545.61 L200.82 545.08 L201.58 544.47 L202.28 543.45 L202.95 543.26 L203.60 542.66 L204.22 541.92 L204.68 541.62 L205.30 541.48 L206.40 540.76 L206.93 540.85 L207.55 540.73 L208.25 539.78 L209.00 539.80 L209.80 539.35 L210.62 538.81 L211.45 537.69 L212.26 537.02 L213.05 536.52 L213.80 535.99 L214.49 535.53 L215.10 535.52 L215.91 535.19 L216.66 534.54 L217.34 533.60 L217.96 533.22 L218.53 532.84 L219.06 531.64 L219.55 531.77 L220.00 531.61 L220.90 530.76 L221.49 530.25 L222.10 529.28 L222.51 528.27 L222.90 528.02 L223.32 526.65 L223.80 526.27 L224.40 525.77 L225.15 524.74 L226.01 524.44 L226.95 524.76 L227.89 524.34 L228.80 523.57 L229.64 523.26 L230.45 523.01 L231.27 523.51 L232.14 523.21 L233.10 522.45 L233.85 523.11 L234.63 523.28 L235.44 523.00 L236.29 522.78 L237.17 523.10 L238.07 522.84 L239.00 522.91 L239.75 524.05 L240.53 523.95 L241.33 524.06 L242.15 524.73 L242.98 524.51 L243.81 525.25 L244.65 525.50 L245.48 525.20 L246.30 525.55 L247.10 525.91 L247.90 526.19 L248.68 526.88 L249.47 526.90 L250.26 527.43 L251.06 527.51 L251.88 528.66 L252.73 528.48 L253.60 528.96 L254.34 529.39 L255.12 530.02 L255.91 529.85 L256.72 530.66 L257.54 530.57 L258.36 530.92 L259.18 531.24 L259.99 531.07 L260.78 531.83 L261.56 531.92 L262.30 532.10 L263.09 533.31 L263.87 533.10 L264.64 533.83 L265.39 534.53 L266.12 534.81 L266.85 535.03 L267.56 535.67 L268.25 536.16 L268.93 536.84 L269.60 536.61 L270.32 537.54 L271.01 537.70 L271.67 538.19 L272.32 539.15 L272.96 539.36 L273.59 539.89 L274.22 540.59 L274.86 541.26 L275.50 541.34 L276.08 542.03 L276.66 542.46 L277.24 543.02 L277.82 543.77 L278.40 544.11 L278.98 544.79 L279.56 545.34 L280.14 546.41 L280.72 546.78 L281.30 547.58 L281.83 548.21 L282.37 548.09 L282.90 548.96 L283.44 549.93 L283.98 550.41 L284.52 550.30 L285.06 550.88 L285.60 551.82 L286.13 552.08 L286.67 552.89 L287.20 553.37 L287.69 554.59 L288.19 555.34 L288.69 556.11 L289.19 556.04 L289.69 557.29 L290.19 557.92 L290.69 558.09 L291.17 559.52 L291.65 560.28 L292.12 560.21 L292.57 561.61 L293.00 561.70 L293.50 562.54 L293.97 563.78 L294.42 564.35 L294.86 564.39 L295.29 565.38 L295.71 566.17 L296.12 566.71 L296.54 567.30 L296.97 568.16 L297.40 569.32 L297.80 569.32 L298.20 570.55 L298.60 571.14 L299.00 571.42 L299.41 572.44 L299.81 573.46 L300.21 574.08 L300.61 574.38 L301.01 576.07 L301.40 576.67 L301.80 577.67 L302.14 577.53 L302.47 578.45 L302.81 579.01 L303.15 580.56 L303.49 580.87 L303.83 581.56 L304.16 582.69 L304.49 584.00 L304.82 584.73 L305.15 584.96 L305.47 585.62 L305.79 587.12 L306.10 587.47 L306.50 588.45 L306.89 588.63 L307.28 589.35 L307.66 590.70 L308.04 591.13 L308.41 591.46 L308.77 593.01 L309.12 593.40 L309.47 594.27 L309.80 594.28 L310.14 595.84 L310.48 595.90 L310.82 597.59 L311.16 598.07 L311.48 598.85 L311.79 599.91 L312.07 600.64 L312.32 601.35 L312.53 601.94 L312.70 602.40 L312.70 602.50 Z" fill="#a9aedb"/>
<path d="M31.8 50.9 H660.6 M31.8 188.9 H660.6 M31.8 326.5 H660.6 M31.8 464.5 H660.6 M31.8 602.5 H660.6 M32.8 50.0 V603.5" stroke="#111" stroke-width="1.9" fill="none"/>
<path d="M660.0 50.0 V603.5" stroke="#262626" stroke-width="1.7" fill="none"/>
<path d="M660.0 188.9 V180.5 M660.0 326.5 V318.1 M660.0 464.5 V456.1 M660.0 602.5 V594.1 M112.6 50.9 V59.5 M112.6 188.9 V180.5 M112.6 326.5 V318.1 M112.6 464.5 V456.1 M112.6 602.5 V594.1 M195.6 50.9 V59.5 M195.6 188.9 V180.5 M195.6 326.5 V318.1 M195.6 464.5 V456.1 M195.6 602.5 V594.1 M272.4 50.9 V59.5 M272.4 188.9 V180.5 M272.4 326.5 V318.1 M272.4 464.5 V456.1 M272.4 602.5 V594.1 M350.4 50.9 V59.5 M350.4 188.9 V180.5 M350.4 326.5 V318.1 M350.4 464.5 V456.1 M350.4 602.5 V594.1 M427.1 50.9 V59.5 M427.1 188.9 V180.5 M427.1 326.5 V318.1 M427.1 464.5 V456.1 M427.1 602.5 V594.1 M505.1 50.9 V59.5 M505.1 188.9 V180.5 M505.1 326.5 V318.1 M505.1 464.5 V456.1 M505.1 602.5 V594.1 M582.9 50.9 V59.5 M582.9 188.9 V180.5 M582.9 326.5 V318.1 M582.9 464.5 V456.1 M582.9 602.5 V594.1" stroke="#111" stroke-width="1.7" fill="none"/>
<path d="M32.8 119.9 H40.8 M660.0 119.9 H652.0 M32.8 257.7 H40.8 M660.0 257.7 H652.0 M32.8 395.5 H40.8 M660.0 395.5 H652.0 M32.8 533.5 H40.8 M660.0 533.5 H652.0" stroke="#111" stroke-width="1.8" fill="none"/>
<text x="15.25" y="46.10" font-size="21.5" fill="#000" textLength="40.51" lengthAdjust="spacingAndGlyphs">1.88</text>
<text x="92.06" y="46.10" font-size="21.5" fill="#000" textLength="39.14" lengthAdjust="spacingAndGlyphs">1.50</text>
<text x="173.88" y="46.10" font-size="21.5" fill="#000" textLength="38.94" lengthAdjust="spacingAndGlyphs">1.25</text>
<text x="255.46" y="46.10" font-size="21.5" fill="#000" textLength="39.14" lengthAdjust="spacingAndGlyphs">1.07</text>
<text x="330.21" y="46.10" font-size="21.5" fill="#000" textLength="40.54" lengthAdjust="spacingAndGlyphs">0.94</text>
<text x="407.03" y="46.10" font-size="21.5" fill="#000" textLength="39.18" lengthAdjust="spacingAndGlyphs">0.83</text>
<text x="483.02" y="46.10" font-size="21.5" fill="#000" textLength="39.75" lengthAdjust="spacingAndGlyphs">0.75</text>
<text x="563.81" y="46.10" font-size="21.5" fill="#000" textLength="41.14" lengthAdjust="spacingAndGlyphs">0.68</text>
<text x="645.86" y="46.10" font-size="21.5" fill="#000" textLength="37.71" lengthAdjust="spacingAndGlyphs">0.63</text>
<text x="20.41" y="623.50" font-size="21.5" fill="#000" textLength="35.15" lengthAdjust="spacingAndGlyphs">160</text>
<text x="97.45" y="623.50" font-size="21.5" fill="#000" textLength="33.88" lengthAdjust="spacingAndGlyphs">200</text>
<text x="180.01" y="623.50" font-size="21.5" fill="#000" textLength="35.47" lengthAdjust="spacingAndGlyphs">240</text>
<text x="257.45" y="623.50" font-size="21.5" fill="#000" textLength="33.88" lengthAdjust="spacingAndGlyphs">280</text>
<text x="334.21" y="623.50" font-size="21.5" fill="#000" textLength="35.47" lengthAdjust="spacingAndGlyphs">320</text>
<text x="411.62" y="623.50" font-size="21.5" fill="#000" textLength="33.95" lengthAdjust="spacingAndGlyphs">360</text>
<text x="488.60" y="623.50" font-size="21.5" fill="#000" textLength="35.88" lengthAdjust="spacingAndGlyphs">400</text>
<text x="565.18" y="623.50" font-size="21.5" fill="#000" textLength="35.91" lengthAdjust="spacingAndGlyphs">440</text>
<text x="643.39" y="623.50" font-size="21.5" fill="#000" textLength="34.88" lengthAdjust="spacingAndGlyphs">480</text>
<text x="270.86" y="15.60" font-size="21.5" fill="#000" textLength="157.22" lengthAdjust="spacingAndGlyphs">Frequency (PHz)</text>
<text x="269.60" y="654.60" font-size="21.5" fill="#000" textLength="166.82" lengthAdjust="spacingAndGlyphs">Wavelength (nm)</text>
<text x="324.40" y="85.10" font-size="21.5" fill="#000" textLength="326.80" lengthAdjust="spacingAndGlyphs">7 bar 45 µJ (Soliton order N = 8.1)</text>
<text x="449.01" y="224.90" font-size="21.5" fill="#000" textLength="196.50" lengthAdjust="spacingAndGlyphs">6 bar 49 µJ (N = 7.6)</text>
<text x="449.41" y="359.70" font-size="21.5" fill="#000" textLength="195.89" lengthAdjust="spacingAndGlyphs">5 bar 64 µJ (N = 7.8)</text>
<text x="449.41" y="499.70" font-size="21.5" fill="#000" textLength="207.34" lengthAdjust="spacingAndGlyphs">3 bar 120 µJ (N = 7.9)</text>
<text x="310.16" y="134.10" font-size="22.0" fill="#e0708a" textLength="66.78" lengthAdjust="spacingAndGlyphs">4.82 µJ</text>
<text x="238.61" y="216.00" font-size="22.0" fill="#7dbf78" textLength="67.60" lengthAdjust="spacingAndGlyphs">4.45 µJ</text>
<text x="233.61" y="398.80" font-size="22.0" fill="#159ef8" textLength="66.38" lengthAdjust="spacingAndGlyphs">4.07 µJ</text>
<text x="144.69" y="525.80" font-size="22.0" fill="#6f79c2" textLength="66.29" lengthAdjust="spacingAndGlyphs">2.72 µJ</text>
<text x="242.94" y="0" font-size="21.5" fill="#000" textLength="183.64" lengthAdjust="spacingAndGlyphs" transform="translate(16.50,660) rotate(-90)">Intensity (5 dB/div)</text>
</svg>
</body></html>
